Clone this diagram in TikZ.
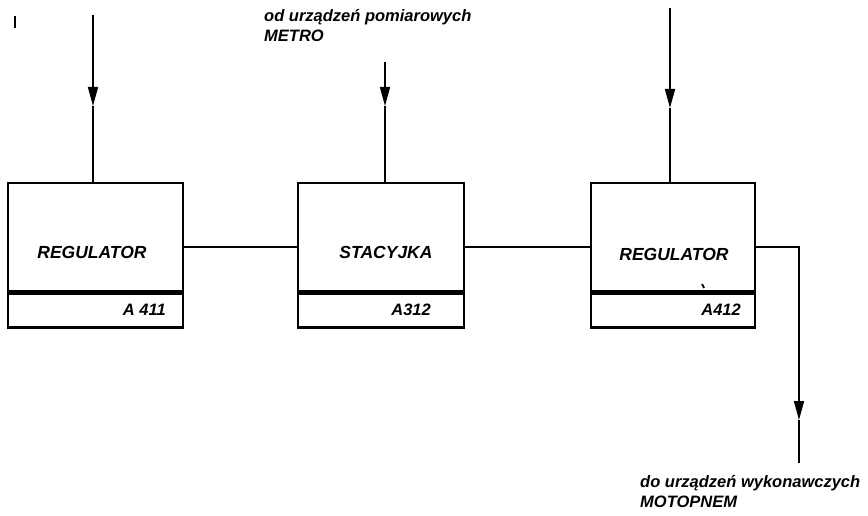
\documentclass[tikz,border=0pt]{standalone}
\usepackage{fontspec}
\setmainfont{Liberation Sans}
\usetikzlibrary{arrows.meta,calc}
\begin{document}
\begin{tikzpicture}[x=1pt,y=-1pt,
  box/.style={draw,line width=2.4pt,inner sep=0pt,minimum width=#1},
  intext/.style={font=\fontsize{17.5}{20}\selectfont\bfseries\itshape,inner sep=0pt},
  code/.style={font=\fontsize{16.5}{18}\selectfont\bfseries\itshape,inner sep=0pt,anchor=east},
  wire/.style={line width=1.6pt},
  arr/.style={wire,-{Triangle[length=19pt,width=10pt]}},
  lbl/.style={font=\fontsize{16.5}{19}\selectfont\bfseries\itshape,inner sep=0pt,anchor=west,align=left}]
\useasboundingbox (0,0) rectangle (868,516);
% boxes
\node[box=175pt,minimum height=108pt] (r1) at (95.5,237) {};
\node[box=175pt,minimum height=34pt,anchor=north] (r1b) at (r1.south) {};
\node[box=166pt,minimum height=108pt] (s2) at (381,237) {};
\node[box=166pt,minimum height=34pt,anchor=north] (s2b) at (s2.south) {};
\node[box=164pt,minimum height=108pt] (r3) at (673,237) {};
\node[box=164pt,minimum height=34pt,anchor=north] (r3b) at (r3.south) {};
% texts in boxes
\node[intext] (t1) at (92,252) {REGULATOR};
\node[intext] (t2) at (386,252) {STACYJKA};
\node[intext] (t3) at (674,254) {REGULATOR};
\node[code] (c1) at (166,310) {A 411};
\node[code] (c2) at (431,310) {A312};
\node[code] (c3) at (741,310) {A412};
% inputs
\coordinate (in1) at (93,15);
\coordinate (h1) at (93,106);
\draw[arr] (in1) -- (h1);
\draw[wire] (h1) -- (r1.north -| h1);
\coordinate (in2) at (385,62);
\coordinate (h2) at (385,106);
\draw[arr] (in2) -- (h2);
\draw[wire] (h2) -- (s2.north -| h2);
\coordinate (in3) at (670,8);
\coordinate (h3) at (670,108);
\draw[arr] (in3) -- (h3);
\draw[wire] (h3) -- (r3.north -| h3);
% links
\coordinate (ly) at (0,247);
\draw[wire] (r1.east |- ly) -- (s2.west |- ly);
\draw[wire] (s2.east |- ly) -- (r3.west |- ly);
\coordinate (k) at (799,247);
\coordinate (h4) at (799,420);
\coordinate (out) at (799,463);
\draw[arr] (r3.east |- ly) -- (k) -- (h4);
\draw[wire] (h4) -- (out);
% labels
\node[lbl] (la) at (264,26) {od urządzeń pomiarowych\\[1pt]METRO};
\node[lbl] (lb) at (640,492) {do urządzeń wykonawczych\\[1pt]MOTOPNEM};
% specks
\draw[line width=1.4pt] (15,16) -- (15,28);
\draw[line width=1.8pt] (702,284) -- (704,288);
\end{tikzpicture}
\end{document}
